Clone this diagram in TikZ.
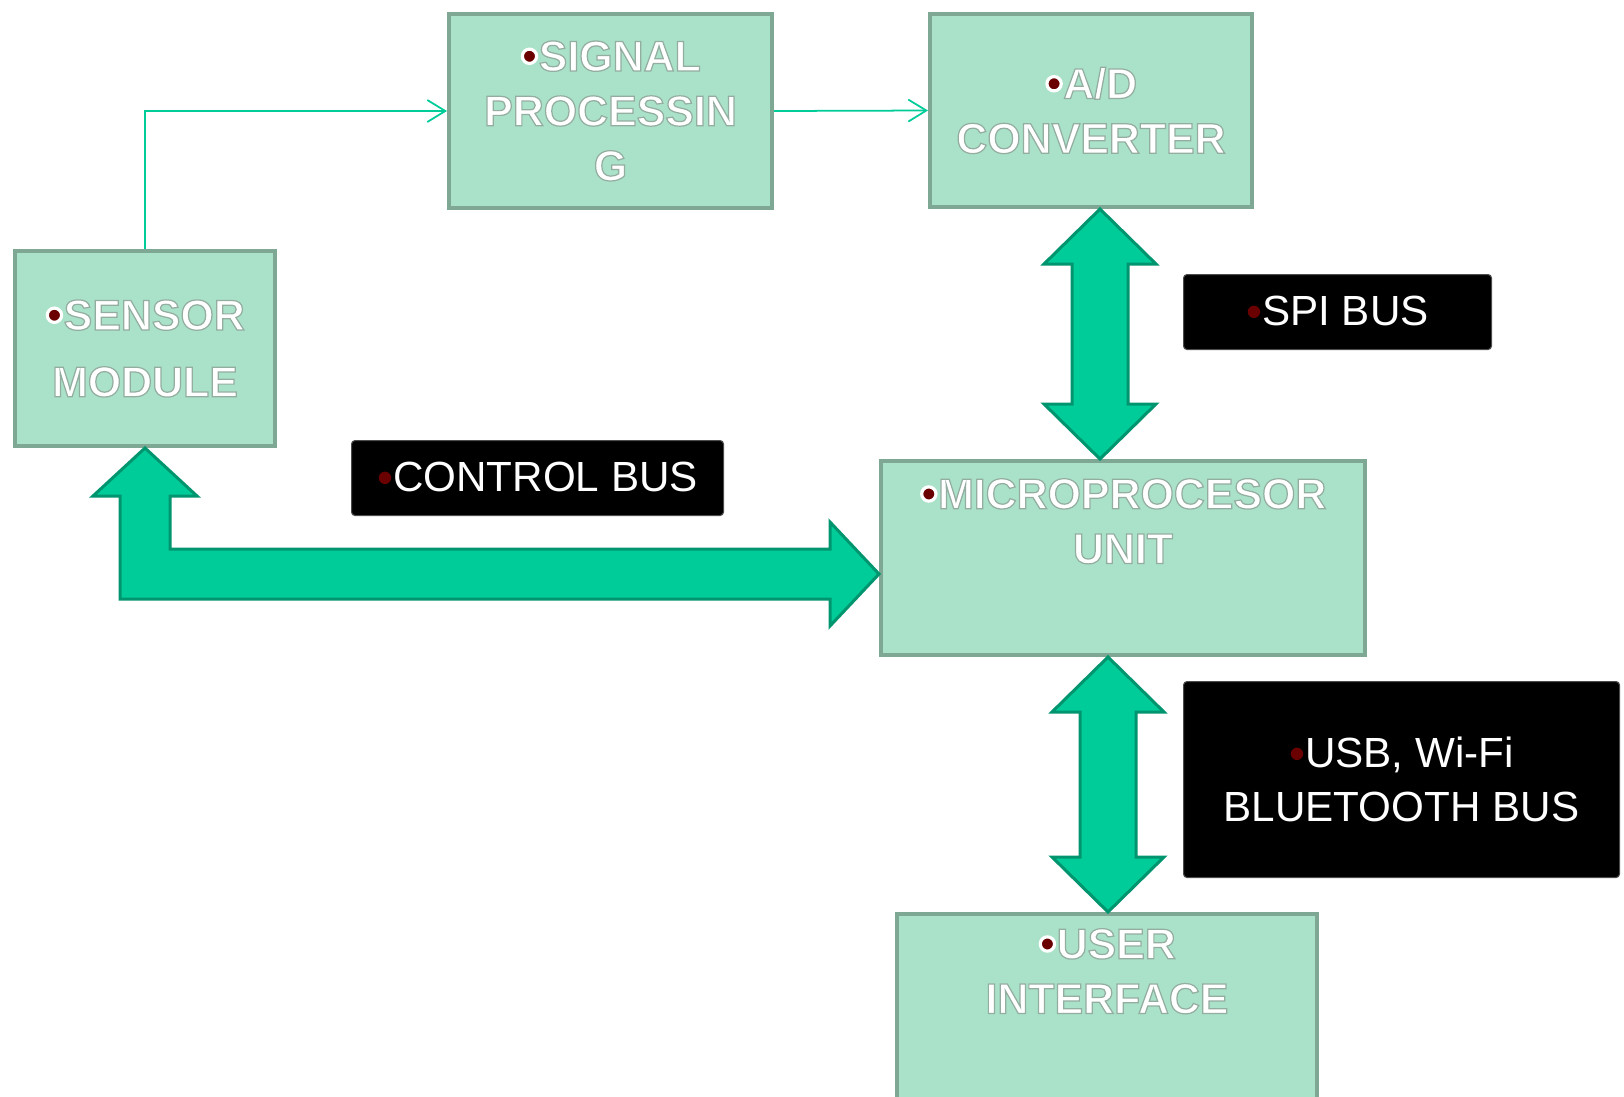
\documentclass[tikz,border=0pt]{standalone}
\usepackage{fontspec}
\setmainfont{Liberation Sans}[BoldFont={Liberation Sans Bold}]
\usetikzlibrary{calc,arrows.meta}

\definecolor{boxfill}{HTML}{A9E2C9}
\definecolor{boxline}{HTML}{7EA893}
\definecolor{busfill}{HTML}{00CC99}
\definecolor{busline}{HTML}{00956E}
\definecolor{dotred}{HTML}{6B0000}

% white letters with a grey rim (fill + stroke render mode)
\newcommand{\gl}[1]{\special{pdf:literal direct 2 Tr 0.35 w 0.58 0.68 0.63 RG}#1\special{pdf:literal direct 0 Tr}}
\newcommand{\bul}{\raisebox{-0.8pt}{\fontsize{15}{15}\selectfont\mdseries\color{dotred}%
  \special{pdf:literal direct 2 Tr 0.9 w 1 1 1 RG}•\special{pdf:literal direct 0 Tr}}}
\newcommand{\bulk}{\raisebox{-0.5pt}{\fontsize{13}{13}\selectfont\color{dotred}•}}

% double headed bus arrow, tip to tip
\newcommand{\vbus}[2]{%
  \filldraw[bus] (#1) -- ++(0.56,0.55) -- ++(-0.28,0)
    -- ($(#2)+(0.28,-0.55)$) -- ++(0.28,0) -- (#2)
    -- ++(-0.56,-0.55) -- ++(0.28,0)
    -- ($(#1)+(-0.28,0.55)$) -- ++(-0.28,0) -- cycle;}

\tikzset{
  block/.style={draw=boxline, fill=boxfill, line width=0.4mm, anchor=north west,
    text=white, align=center, font=\fontsize{12.2}{15.6}\selectfont\bfseries},
  boxtext/.style={text=white, align=center, inner sep=0pt,
    font=\fontsize{12.2}{15.6}\selectfont\bfseries},
  buslabel/.style={draw=black!70, fill=black, rounded corners=1pt, line width=0.3pt,
    anchor=north west, text=white, align=center, font=\fontsize{12}{15.4}\selectfont},
  bus/.style={fill=busfill, draw=busline, line width=0.3mm, line join=miter},
  link/.style={draw=busfill, line width=0.5pt, -{Straight Barb[length=1.8mm,width=2.2mm]}}
}

\begin{document}
\begin{tikzpicture}[x=1cm,y=-1cm]
	\useasboundingbox (0,0) rectangle (16.24,10.96);

	% blocks
	\node[block, minimum width=3.23cm, minimum height=1.94cm] (sig) at (4.47,0.12)
		{\bul\gl{SIGNAL}\\\gl{PROCESSIN}\\\gl{G}};
	\node[block, minimum width=3.22cm, minimum height=1.93cm] (ad) at (9.28,0.12)
		{\bul\gl{A/D}\\\gl{CONVERTER}};
	\node[block, minimum width=2.60cm, minimum height=1.95cm,
		font=\fontsize{12.2}{19}\selectfont\bfseries] (sensor) at (0.13,2.49)
		{\bul\gl{SENSOR}\\\gl{MODULE}};
	\node[block, minimum width=4.84cm, minimum height=1.94cm] (micro) at (8.79,4.59) {};
	\node[block, minimum width=4.20cm, minimum height=2.6cm] (user) at (8.95,9.12) {};

	\node[boxtext, anchor=north] (microtxt) at ($(micro.north)+(0,0.19)$)
		{\bul\gl{MICROPROCESOR}\\\gl{UNIT}};
	\node[boxtext, anchor=north] (usertxt) at ($(user.north)+(0,0.16)$)
		{\bul\gl{USER}\\\gl{INTERFACE}};

	% bus labels
	\node[buslabel, minimum width=3.72cm, minimum height=0.75cm] (ctl) at (3.51,4.40)
		{\bulk CONTROL BUS};
	\node[buslabel, minimum width=3.08cm, minimum height=0.75cm] (spi) at (11.83,2.74)
		{\bulk SPI BUS};
	\node[buslabel, minimum width=4.36cm, minimum height=1.96cm] (usb) at (11.83,6.81)
		{\bulk USB, Wi-Fi\\BLUETOOTH BUS};

	% signal path
	\draw[link] (sensor.north) |- (sig.west);
	\draw[link] (sig.east) -- (ad.west);

	% buses
	\coordinate (spitop) at ($(ad.south)+(0.09,0)$);
	\coordinate (spibot) at (spitop |- micro.north);
	\vbus{spitop}{spibot}

	\coordinate (usbtop) at ($(micro.south)+(-0.15,0)$);
	\coordinate (usbbot) at (usbtop |- user.north);
	\vbus{usbtop}{usbbot}

	\coordinate (ctl1) at (sensor.south);
	\coordinate (ctl2) at ($(micro.west)+(0,0.16)$);
	\coordinate (ctlc) at (ctl1 |- ctl2);
	\filldraw[bus] (ctl1) -- ++(0.52,0.48) -- ++(-0.27,0)
		-- ($(ctlc)+(0.25,-0.25)$) -- ($(ctl2)+(-0.49,-0.25)$) -- ++(0,-0.27)
		-- (ctl2) -- ++(-0.49,0.52) -- ++(0,-0.27)
		-- ($(ctlc)+(-0.25,0.25)$) -- ($(ctl1)+(-0.25,0.48)$) -- ++(-0.27,0) -- cycle;
\end{tikzpicture}
\end{document}
